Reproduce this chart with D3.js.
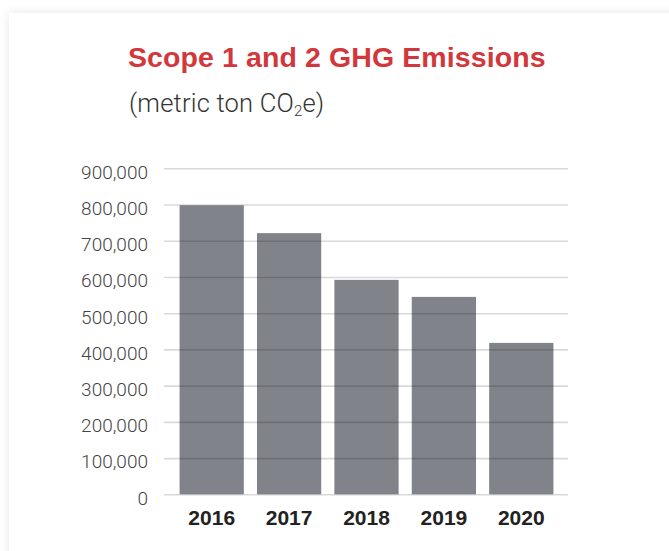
<!DOCTYPE html>
<html>
<head>
<meta charset="utf-8">
<script src="https://cdn.jsdelivr.net/npm/d3@7"></script>
<style>
  html, body { margin: 0; padding: 0; background: #fff; overflow: hidden; }
  #card {
    position: absolute; left: 9px; top: 13px; width: 720px; height: 600px;
    background: #fff; box-shadow: 0 0 10px rgba(0,0,0,0.10);
  }
  svg { position: absolute; left: 0; top: 0; }
</style>
</head>
<body>
<div id="card"></div>
<script>
// Chart data
var years = ["2016", "2017", "2018", "2019", "2020"];
var emissions = [798000, 721000, 592000, 545000, 418000];
var yTicks = [0, 100000, 200000, 300000, 400000, 500000, 600000, 700000, 800000, 900000];

var width = 669, height = 551;

var svg = d3.select("body")
  .append("svg")
    .attr("width", width)
    .attr("height", height);

// Title and subtitle
svg.append("text")
  .attr("x", 128)
  .attr("y", 67)
  .attr("fill", "#d2373c")
  .style("font-family", "'Liberation Sans', Arial, sans-serif")
  .style("font-weight", "bold")
  .style("font-size", "28.5px")
  .style("letter-spacing", "0.1px")
  .text("Scope 1 and 2 GHG Emissions");

var sub = svg.append("text")
  .attr("x", 129)
  .attr("y", 112)
  .attr("fill", "#333")
  .style("font-family", "Roboto, sans-serif")
  .style("font-weight", "300")
  .style("font-size", "25.5px")
  .style("letter-spacing", "0.2px");
sub.append("tspan").text("(metric ton CO");
sub.append("tspan").attr("dy", 4).style("font-size", "15px").text("2");
sub.append("tspan").attr("dy", -4).text("e)");

// Scales
var x = d3.scaleBand()
  .domain(years)
  .range([173, 560])
  .paddingInner(0.17)
  .paddingOuter(0.085);

var y = d3.scaleLinear()
  .domain([0, 900000])
  .range([494.3, 168.3]);

// Bars
svg.append("g")
  .selectAll("rect")
  .data(emissions)
  .enter().append("rect")
    .attr("x", function(d, i) { return x(years[i]); })
    .attr("y", function(d) { return y(d); })
    .attr("width", x.bandwidth())
    .attr("height", function(d) { return y(0) - y(d); })
    .attr("fill", "#80838a");

// Gridlines + Y axis labels (drawn over the bars)
var yAxis = d3.axisLeft(y)
  .tickValues(yTicks)
  .tickSize(-(568 - 164))
  .tickPadding(16)
  .tickFormat(d3.format(","));

var gy = svg.append("g")
  .attr("transform", "translate(164,0)")
  .call(yAxis);

gy.select(".domain").remove();
gy.selectAll(".tick line")
  .attr("stroke", "rgba(0,0,0,0.15)")
  .attr("stroke-width", 1.6);
gy.selectAll(".tick text")
  .attr("x", -16)
  .attr("dy", "0.52em")
  .attr("fill", "#444")
  .style("font-family", "Roboto, sans-serif")
  .style("font-weight", "300")
  .style("font-size", "19px");

// X axis labels
var xAxis = d3.axisBottom(x).tickSize(0).tickPadding(0);
var gx = svg.append("g")
  .attr("transform", "translate(0,510)")
  .call(xAxis);
gx.select(".domain").remove();
gx.selectAll(".tick text")
  .attr("dy", "0.72em")
  .attr("fill", "#222")
  .style("font-family", "'Liberation Sans', Arial, sans-serif")
  .style("font-weight", "bold")
  .style("font-size", "21px");
</script>
</body>
</html>
